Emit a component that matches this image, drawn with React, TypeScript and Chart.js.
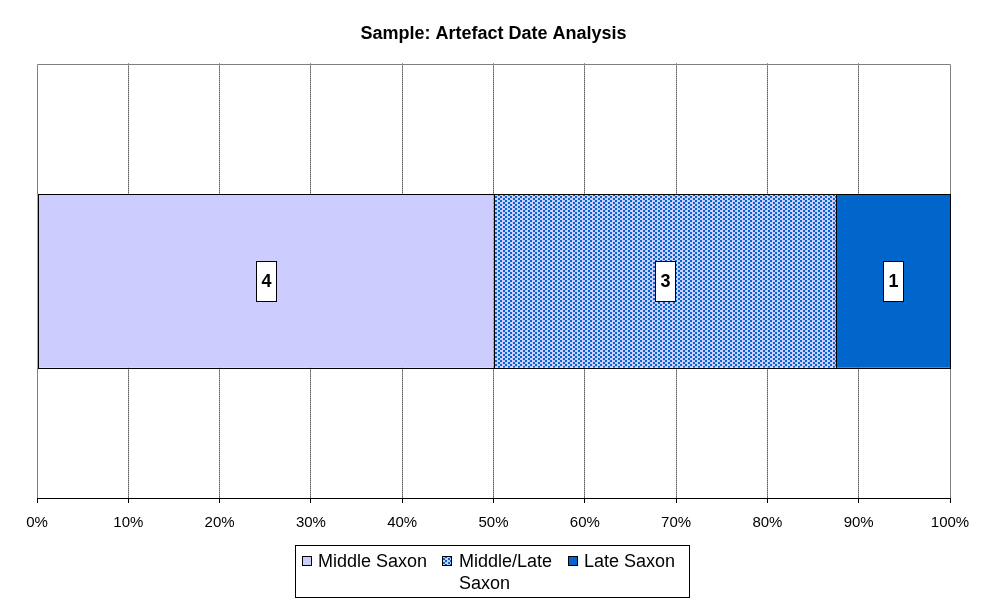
import React, { useEffect, useRef } from "react";
import { Chart, registerables } from "chart.js";

Chart.register(...registerables);

const categories = ["Sample"];
const seriesNames = ["Middle Saxon", "Middle/Late Saxon", "Late Saxon"];
const middleSaxon = [4];
const middleLateSaxon = [3];
const lateSaxon = [1];
const tickValues = [0, 10, 20, 30, 40, 50, 60, 70, 80, 90, 100];

const FONT = "'Liberation Sans', Arial, sans-serif";
const LIGHT = "#CCCCFF";
const BLUE = "#0066CC";

function makePattern(): CanvasPattern | string {
  const c = document.createElement("canvas");
  c.width = 10;
  c.height = 4;
  const g = c.getContext("2d");
  if (!g) return LIGHT;
  g.fillStyle = LIGHT;
  g.fillRect(0, 0, 10, 4);
  g.fillStyle = BLUE;
  g.fillRect(0, 0, 2, 2);
  g.fillRect(5, 0, 2, 2);
  g.fillRect(3, 2, 2, 2);
  g.fillRect(8, 2, 2, 2);
  const p = g.createPattern(c, "repeat");
  return p || LIGHT;
}

export default function App() {
  const ref = useRef<HTMLCanvasElement>(null);

  useEffect(() => {
    if (!ref.current) return;
    const pattern = makePattern();
    const counts = [middleSaxon, middleLateSaxon, lateSaxon];
    const totals = categories.map((_, i) => counts.reduce((s, a) => s + a[i], 0));
    const pct = (arr: number[]) => arr.map((v, i) => (v / totals[i]) * 100);
    const fills: (string | CanvasPattern)[] = [LIGHT, pattern, BLUE];

    const borderPlugin = {
      id: "plotBorder",
      beforeDatasetsDraw(chart: any) {
        const { ctx, chartArea: a } = chart;
        ctx.save();
        ctx.strokeStyle = "#808080";
        ctx.lineWidth = 1;
        ctx.beginPath();
        ctx.moveTo(Math.round(a.left) + 0.5, Math.round(a.bottom));
        ctx.lineTo(Math.round(a.left) + 0.5, Math.round(a.top) + 0.5);
        ctx.lineTo(Math.round(a.right) + 0.5, Math.round(a.top) + 0.5);
        ctx.lineTo(Math.round(a.right) + 0.5, Math.round(a.bottom));
        ctx.stroke();
        ctx.restore();
      },
    };

    const labelPlugin = {
      id: "segLabels",
      afterDatasetsDraw(chart: any) {
        const { ctx } = chart;
        ctx.save();
        chart.data.datasets.forEach((_ds: any, di: number) => {
          const meta = chart.getDatasetMeta(di);
          meta.data.forEach((el: any) => {
            const l = Math.round(Math.min(el.x, el.base)) + 0.5;
            const r = Math.round(Math.max(el.x, el.base)) + 0.5;
            const t = Math.round(el.y - el.height / 2) + 0.5;
            const b = Math.round(el.y + el.height / 2) + 0.5;
            ctx.strokeStyle = "#000000";
            ctx.lineWidth = 1;
            ctx.strokeRect(l, t, r - l, b - t);
          });
        });
        chart.data.datasets.forEach((_ds: any, di: number) => {
          const meta = chart.getDatasetMeta(di);
          meta.data.forEach((el: any, i: number) => {
            const cx = (el.x + el.base) / 2;
            const cy = el.y;
            const w = 20;
            const h = 40;
            const x0 = Math.round(cx - w / 2) + 0.5;
            const y0 = Math.round(cy - h / 2) + 0.5;
            ctx.fillStyle = "#FFFFFF";
            ctx.fillRect(x0, y0, w, h);
            ctx.strokeStyle = "#000000";
            ctx.lineWidth = 1;
            ctx.strokeRect(x0, y0, w, h);
            ctx.fillStyle = "#000000";
            ctx.font = `bold 18px ${FONT}`;
            ctx.textAlign = "center";
            ctx.textBaseline = "middle";
            ctx.fillText(String(counts[di][i]), x0 + w / 2, y0 + h / 2 + 1);
          });
        });
        ctx.restore();
      },
    };

    const legendPlugin = {
      id: "customLegend",
      afterDraw(chart: any) {
        const { ctx } = chart;
        ctx.save();
        ctx.strokeStyle = "#000000";
        ctx.lineWidth = 1;
        ctx.strokeRect(295.5, 545.5, 394, 52);
        ctx.font = `18px ${FONT}`;
        ctx.textAlign = "left";
        ctx.textBaseline = "alphabetic";
        const items = [
          { sx: 302, tx: 318, lines: ["Middle Saxon"] },
          { sx: 442, tx: 459, lines: ["Middle/Late", "Saxon"] },
          { sx: 568, tx: 584, lines: ["Late Saxon"] },
        ];
        items.forEach((it, i) => {
          ctx.fillStyle = fills[i];
          ctx.fillRect(it.sx, 556, 10, 10);
          ctx.strokeStyle = "#000000";
          ctx.strokeRect(it.sx + 0.5, 556.5, 9, 9);
          ctx.fillStyle = "#000000";
          it.lines.forEach((ln, li) => {
            ctx.fillText(ln, it.tx, 567 + li * 22);
          });
        });
        ctx.restore();
      },
    };

    const chart = new Chart(ref.current, {
      type: "bar",
      data: {
        labels: categories,
        datasets: [
          { label: seriesNames[0], data: pct(middleSaxon), backgroundColor: fills[0] as any },
          { label: seriesNames[1], data: pct(middleLateSaxon), backgroundColor: fills[1] as any },
          { label: seriesNames[2], data: pct(lateSaxon), backgroundColor: fills[2] as any },
        ].map((d) => ({
          ...d,
          borderWidth: 0,
          barPercentage: 0.4,
          categoryPercentage: 1,
        })),
      },
      options: {
        indexAxis: "y",
        responsive: false,
        animation: false,
        events: [],
        layout: { padding: { left: 37, right: 37, top: 0, bottom: 63 } },
        plugins: {
          legend: { display: false },
          tooltip: { enabled: false },
          title: {
            display: true,
            text: "Sample: Artefact Date Analysis",
            color: "#000000",
            font: { family: FONT, size: 18, weight: "bold" },
            padding: { top: 23, bottom: 19 },
          },
        },
        scales: {
          x: {
            type: "linear",
            stacked: true,
            min: 0,
            max: 100,
            afterBuildTicks(scale: any) {
              scale.ticks = tickValues.map((v) => ({ value: v }));
            },
            ticks: {
              color: "#000000",
              font: { family: FONT, size: 15 },
              padding: 11,
              maxRotation: 0,
              callback: (v: any) => `${v}%`,
            },
            grid: {
              color: (c: any) =>
                c.tick && (c.tick.value === 0 || c.tick.value === 100) ? "rgba(0,0,0,0)" : "#000000",
              tickColor: "#000000",
              tickLength: 5,
              tickBorderDash: [],
            },
            border: { display: true, color: "#000000", width: 1, dash: [1, 1] },
          },
          y: {
            type: "category",
            stacked: true,
            display: false,
          },
        },
      },
      plugins: [borderPlugin, labelPlugin, legendPlugin],
    } as any);

    return () => chart.destroy();
  }, []);

  return (
    <div style={{ position: "fixed", left: 0, top: 0, width: 987, height: 606, background: "#FFFFFF" }}>
      <canvas ref={ref} width={987} height={606} />
    </div>
  );
}
